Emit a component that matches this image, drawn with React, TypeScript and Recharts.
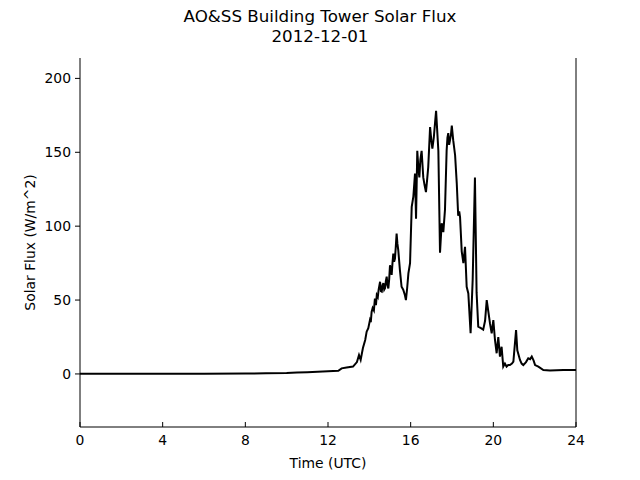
import React from 'react';
import { Line, LineChart, ReferenceLine, XAxis, YAxis } from 'recharts';

// hours UTC
const hours = [
  0, 2, 4, 6, 8, 9, 10, 10.5, 11, 11.5, 12, 12.5, 12.66, 12.9, 13.21, 13.4, 13.5, 13.58, 13.69,
  13.8, 13.87, 13.95, 14.03, 14.07, 14.11, 14.16, 14.22, 14.27, 14.32, 14.36, 14.41, 14.45, 14.52,
  14.56, 14.6, 14.64, 14.68, 14.72, 14.76, 14.8, 14.84, 14.88, 14.92, 14.96,
  15.0, 15.04, 15.08, 15.12, 15.16, 15.2, 15.24, 15.28, 15.32, 15.36, 15.4, 15.48, 15.56, 15.64,
  15.72, 15.77, 15.83, 15.89, 15.97, 16.05,
  16.13, 16.21, 16.26, 16.32, 16.37, 16.42, 16.47, 16.53, 16.61, 16.67, 16.74, 16.8, 16.85, 16.94,
  17.0, 17.05, 17.12, 17.18, 17.23, 17.34,
  17.42, 17.5, 17.58, 17.66, 17.74, 17.78, 17.82, 17.86, 17.9, 17.95, 17.99, 18.06, 18.15, 18.23,
  18.3, 18.35, 18.39, 18.47,
  18.55, 18.63, 18.71, 18.79, 18.9, 19.0, 19.11, 19.19, 19.27, 19.4, 19.51, 19.6, 19.68, 19.76,
  19.84, 19.92, 20.0, 20.08, 20.16, 20.24, 20.32, 20.4, 20.48, 20.56, 20.64, 20.72, 20.8, 20.9,
  20.97, 21.1, 21.16, 21.29, 21.37, 21.45, 21.58, 21.69, 21.78, 21.86, 21.95, 22.02, 22.18, 22.42,
  22.74, 23.39, 24,
];

// W/m^2
const flux = [
  0.2, 0.2, 0.2, 0.2, 0.3, 0.4, 0.6, 0.9, 1.2, 1.5, 1.8, 2.1, 3.8, 4.3, 5, 8, 12.8, 9.5, 17.6,
  23, 28.6, 31, 36.5, 35, 42, 44.6, 43, 51, 46.6, 53.4, 52, 57, 62.4,
  56, 55.7, 60, 61.5, 57, 58, 63, 65.8, 60, 57.9, 64,
  73.6, 70, 67, 75, 81.5, 76, 78, 86, 95, 88, 83.8, 70.3, 59, 57,
  53.4, 50, 58, 68, 75, 113,
  120, 135.6, 105, 151, 140, 133, 145, 151, 133, 128, 123, 132, 140, 167,
  158, 152.5, 160, 170, 178, 151,
  82, 102, 96, 111, 151, 160, 163, 155, 158, 162, 168, 158, 148, 129,
  107, 110, 106, 83,
  75, 86, 59, 54.5, 27.5, 63.5, 133, 55, 32, 31, 30, 36, 50, 42,
  34, 27.5, 36.5, 23, 14, 25, 11.7, 18.4, 5, 7, 5, 6, 6, 7,
  8.3, 29.7, 16, 9.5, 7, 6, 8, 10.6, 10, 11.7, 9, 6, 5, 2.7,
  2.3, 2.7, 2.7,
];

const xTicks = [0, 4, 8, 12, 16, 20, 24];
const yTicks = [0, 50, 100, 150, 200];

const data = hours.map((t, i) => ({ t, v: flux[i] }));

const FONT = '"DejaVu Sans", sans-serif';

function BottomTick({ x, y, payload }: any) {
  return (
    <g>
      <line x1={x} x2={x} y1={y - 5} y2={y} stroke="#000" strokeWidth={1} />
      <text x={x} y={y + 18} textAnchor="middle" fontSize={13.9} fill="#000" fontFamily={FONT}>
        {payload.value}
      </text>
    </g>
  );
}

function TopTick({ x, y }: any) {
  return <line x1={x} x2={x} y1={y - 3} y2={y + 3} stroke="#000" strokeWidth={1} />;
}

export default function App() {
  return (
    <div style={{ position: 'absolute', left: 0, top: 0, width: 640, height: 480, background: '#fff', fontFamily: FONT }}>
      <div style={{ position: 'absolute', left: 0, top: 6, width: 640, textAlign: 'center', fontSize: 16.7, lineHeight: '20px', color: '#000' }}>
        AO&amp;SS Building Tower Solar Flux
        <br />
        2012-12-01
      </div>
      <LineChart
        width={640}
        height={480}
        data={data}
        margin={{ top: 58, right: 64, bottom: 23, left: 20 }}
      >
        <XAxis
          dataKey="t"
          type="number"
          domain={[0, 24]}
          ticks={xTicks}
          allowDataOverflow
          height={30}
          tickSize={0}
          tickMargin={0}
          tickLine={false}
          axisLine={{ stroke: '#000', strokeWidth: 1 }}
          tick={<BottomTick />}
          label={{ value: 'Time (UTC)', position: 'insideBottom', offset: -11, fill: '#000', fontSize: 13.9, fontFamily: FONT }}
        />
        <XAxis
          xAxisId="top"
          orientation="top"
          dataKey="t"
          type="number"
          domain={[0, 24]}
          ticks={xTicks}
          height={0}
          tickSize={0}
          tickMargin={0}
          tickLine={false}
          axisLine={{ stroke: '#000', strokeWidth: 1 }}
          tick={<TopTick />}
        />
        <YAxis
          type="number"
          domain={[-35.9, 213.8]}
          ticks={yTicks}
          allowDataOverflow
          width={60}
          tickSize={5}
          tickMargin={4}
          tickLine={{ stroke: '#000' }}
          axisLine={{ stroke: '#000', strokeWidth: 1 }}
          tick={{ fill: '#000', fontSize: 13.9, fontFamily: FONT }}
          label={{
            value: 'Solar Flux (W/m^2)',
            angle: -90,
            position: 'insideLeft',
            offset: 0,
            dx: 10,
            fill: '#000',
            fontSize: 13.9,
            fontFamily: FONT,
            style: { textAnchor: 'middle' },
          }}
        />
        <ReferenceLine x={24} stroke="#000" strokeWidth={1} ifOverflow="visible" />
        <Line
          type="linear"
          dataKey="v"
          stroke="#000"
          strokeWidth={2}
          dot={false}
          isAnimationActive={false}
        />
      </LineChart>
    </div>
  );
}
